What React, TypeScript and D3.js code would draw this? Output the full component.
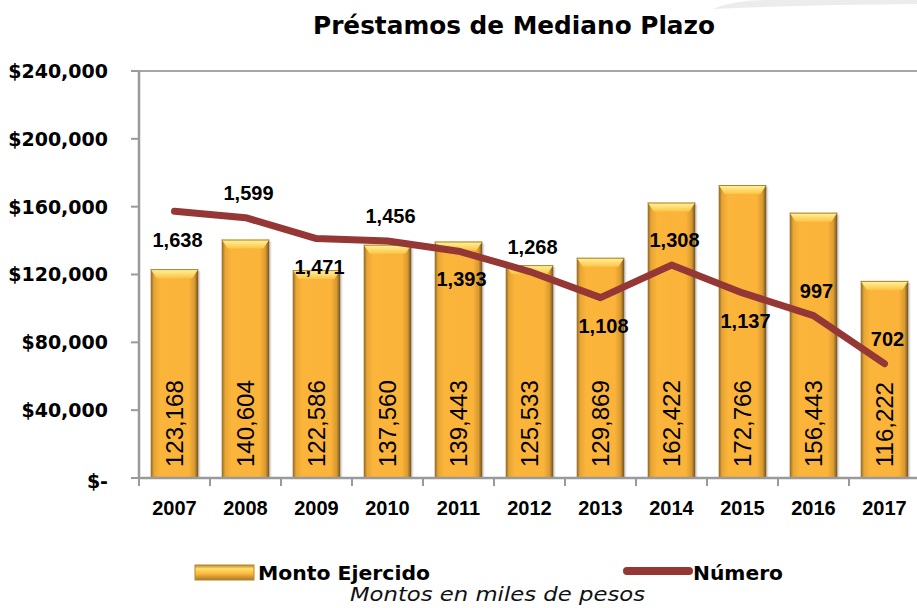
import React from 'react';
import * as d3 from 'd3';

const years = ['2007', '2008', '2009', '2010', '2011', '2012', '2013', '2014', '2015', '2016', '2017'];
const montoEjercido = [123168, 140604, 122586, 137560, 139443, 125533, 129869, 162422, 172766, 156443, 116222];
const numero = [1638, 1599, 1471, 1456, 1393, 1268, 1108, 1308, 1137, 997, 702];
const numeroLabelSide = ['below', 'above', 'below', 'above', 'below', 'above', 'below', 'above', 'below', 'above', 'above'];
const yTicks = [0, 40000, 80000, 120000, 160000, 200000, 240000];

const W = 917;
const H = 608;
const left = 139;
const right = 920;
const top = 71;
const bottom = 478;

export default function App() {
  const x = d3.scaleBand<string>().domain(years).range([left, right]).paddingInner(0.33).paddingOuter(0.165);
  const y = d3.scaleLinear().domain([0, 240000]).range([bottom, top]);
  const y2 = d3.scaleLinear().domain([0, 2500]).range([bottom, top]);
  const fmt = d3.format(',');
  const step = x.step();
  const bw = x.bandwidth();

  const line = d3
    .line<number>()
    .x((_, i) => (x(years[i]) as number) + bw / 2)
    .y((d) => y2(d));

  const boldFont = '"DejaVu Sans", sans-serif';
  const lib = '"Liberation Sans", Arial, sans-serif';

  return (
    <svg width={W} height={H} style={{ position: 'absolute', left: 0, top: 0, background: '#fff' }}>
      <defs>
        <linearGradient id="barBody" x1="0" x2="1" y1="0" y2="0">
          <stop offset="0" stopColor="#8a6526" />
          <stop offset="0.07" stopColor="#e8a534" />
          <stop offset="0.2" stopColor="#fbb53b" />
          <stop offset="0.8" stopColor="#fbb33a" />
          <stop offset="0.92" stopColor="#d99a30" />
          <stop offset="1" stopColor="#6e5020" />
        </linearGradient>
        <linearGradient id="barTop" x1="0" x2="0" y1="0" y2="1">
          <stop offset="0" stopColor="#fff6a0" />
          <stop offset="1" stopColor="#fcc445" />
        </linearGradient>
        <linearGradient id="legBar" x1="0" x2="0" y1="0" y2="1">
          <stop offset="0" stopColor="#b8862c" />
          <stop offset="0.25" stopColor="#fde06a" />
          <stop offset="0.6" stopColor="#fbb53b" />
          <stop offset="1" stopColor="#a87a28" />
        </linearGradient>
      </defs>

      {/* faint background decoration */}
      <path d="M 712 9 Q 735 0 770 0 L 917 0 L 917 4 Q 800 5 712 9 Z" fill="#ececec" />

      {/* title */}
      <text x={514} y={34} textAnchor="middle" fontFamily={boldFont} fontWeight="bold" fontSize={25} textLength={402} lengthAdjust="spacingAndGlyphs" fill="#000">
        Préstamos de Mediano Plazo
      </text>

      {/* plot border top */}
      <line x1={left} x2={W} y1={y(240000)} y2={y(240000)} stroke="#a6a6a6" strokeWidth={2} />

      {/* bars */}
      {montoEjercido.map((v, i) => {
        const x0 = x(years[i]) as number;
        const y0 = y(v);
        const h = bottom - y0;
        const bev = 9;
        return (
          <g key={years[i]}>
            <rect x={x0 + 2} y={y0 + 2} width={bw} height={h - 2} fill="#c8c8c8" opacity={0.6} />
            <rect x={x0} y={y0} width={bw} height={h} fill="url(#barBody)" />
            <polygon
              points={`${x0},${y0} ${x0 + bw},${y0} ${x0 + bw - 6},${y0 + bev} ${x0 + 6},${y0 + bev}`}
              fill="url(#barTop)"
            />
            <line x1={x0} x2={x0 + bw} y1={y0 + 0.5} y2={y0 + 0.5} stroke="#b08030" strokeWidth={1} />
          </g>
        );
      })}

      {/* bar value labels */}
      {montoEjercido.map((v, i) => {
        const cx = (x(years[i]) as number) + bw / 2;
        const by = bottom - 11;
        return (
          <text
            key={'bl' + i}
            transform={`translate(${cx},${by}) rotate(-90)`}
            dy="0.36em"
            textAnchor="start"
            fontFamily={lib}
            fontSize={24}
            fill="#000"
          >
            {fmt(v)}
          </text>
        );
      })}

      {/* y axis */}
      <line x1={left} x2={left} y1={top} y2={bottom} stroke="#9a9a9a" strokeWidth={2.5} />
      {yTicks.map((t) => (
        <g key={'yt' + t}>
          <line x1={left - 8} x2={left} y1={y(t)} y2={y(t)} stroke="#9a9a9a" strokeWidth={2} />
          <text
            x={108}
            y={y(t)}
            dy={t === 0 ? '0.55em' : '0.36em'}
            textAnchor="end"
            fontFamily={boldFont}
            fontWeight="bold"
            fontSize={19}
            fill="#000"
          >
            {t === 0 ? '$-' : '$' + fmt(t)}
          </text>
        </g>
      ))}

      {/* x axis */}
      <line x1={left} x2={W} y1={bottom} y2={bottom} stroke="#9a9a9a" strokeWidth={2.5} />
      {years.map((yr, i) => {
        const bx = left + i * step;
        return (
          <line key={'xt' + yr} x1={bx} x2={bx} y1={bottom} y2={bottom + 8} stroke="#9a9a9a" strokeWidth={2} />
        );
      })}
      {years.map((yr) => (
        <text
          key={'xl' + yr}
          x={(x(yr) as number) + bw / 2}
          y={515}
          textAnchor="middle"
          fontFamily={lib}
          fontWeight="bold"
          fontSize={20}
          fill="#000"
        >
          {yr}
        </text>
      ))}

      {/* line */}
      <path d={line(numero) || ''} fill="none" stroke="#953735" strokeWidth={7} strokeLinejoin="round" strokeLinecap="round" />

      {/* line labels */}
      {numero.map((v, i) => {
        const cx = (x(years[i]) as number) + bw / 2 + 3;
        const cy = y2(v) + (numeroLabelSide[i] === 'above' ? -25 : 28);
        return (
          <text
            key={'nl' + i}
            x={cx}
            y={cy}
            dy="0.36em"
            textAnchor="middle"
            fontFamily={lib}
            fontWeight="bold"
            fontSize={20}
            fill="#000"
          >
            {fmt(v)}
          </text>
        );
      })}

      {/* legend */}
      <rect x={195} y={565} width={59} height={15} fill="url(#legBar)" stroke="#b8862c" strokeWidth={1} />
      <text x={258} y={580} fontFamily={boldFont} fontWeight="bold" fontSize={20} textLength={172} lengthAdjust="spacingAndGlyphs" fill="#000">
        Monto Ejercido
      </text>
      <line x1={627} x2={689} y1={571} y2={571} stroke="#953735" strokeWidth={8} strokeLinecap="round" />
      <text x={693} y={580} fontFamily={boldFont} fontWeight="bold" fontSize={20} textLength={90} lengthAdjust="spacingAndGlyphs" fill="#000">
        Número
      </text>

      {/* caption */}
      <text x={350} y={601} fontFamily={boldFont} fontStyle="italic" fontSize={19} textLength={295} lengthAdjust="spacingAndGlyphs" fill="#111">
        Montos en miles de pesos
      </text>
    </svg>
  );
}
